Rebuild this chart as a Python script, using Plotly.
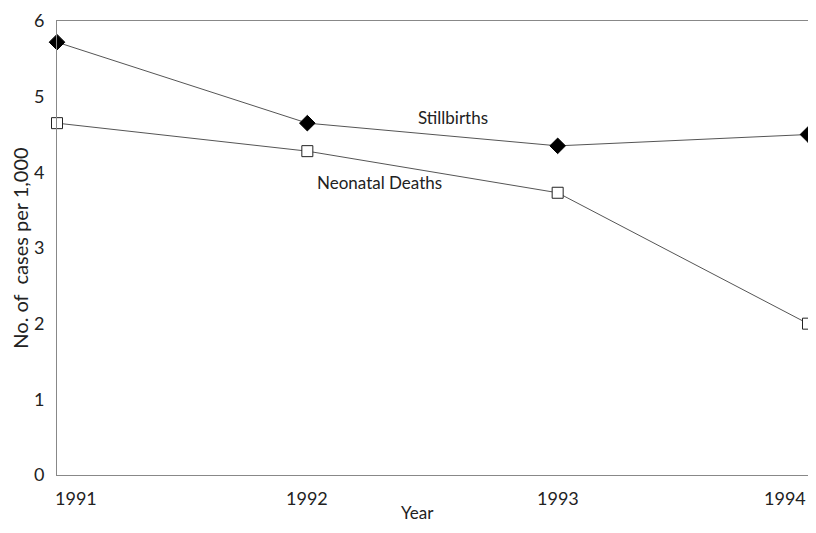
import plotly.graph_objects as go

years = [1991, 1992, 1993, 1994]
stillbirths = [5.72, 4.65, 4.35, 4.50]
neonatal = [4.65, 4.28, 3.73, 2.00]
y_ticks = [0, 1, 2, 3, 4, 5, 6]
y_tick_labels = ["0", "1", "2", "3", "4", "5", "6"]
x_tick_labels = ["1991", "1992", "1993", "1994"]

FONT = "Lato, Open Sans, sans-serif"

fig = go.Figure()
fig.add_trace(go.Scatter(
    x=years, y=stillbirths, mode="lines+markers", name="Stillbirths",
    line=dict(color="#555555", width=1),
    marker=dict(symbol="diamond", size=12, color="black", line=dict(color="black", width=1)),
    cliponaxis=False,
))
fig.add_trace(go.Scatter(
    x=years, y=neonatal, mode="lines+markers", name="Neonatal Deaths",
    line=dict(color="#555555", width=1),
    marker=dict(symbol="square", size=11, color="white", line=dict(color="#222222", width=1)),
    cliponaxis=False,
))

fig.add_annotation(x=1992.58, y=4.73, text="Stillbirths", showarrow=False,
                   font=dict(family=FONT, size=17, color="#222222"))
fig.add_annotation(x=1992.29, y=3.86, text="Neonatal Deaths", showarrow=False,
                   font=dict(family=FONT, size=17, color="#222222"))

# x tick labels: first left-aligned, last right-aligned, others centred
for i, (yr, lab) in enumerate(zip(years, x_tick_labels)):
    anchor = "left" if i == 0 else ("right" if i == len(years) - 1 else "center")
    shift = -4 if i == 0 else 0
    fig.add_annotation(x=yr, y=0, xref="x", yref="paper", text=lab, showarrow=False,
                       xanchor=anchor, yanchor="top", yshift=-10, xshift=shift,
                       font=dict(family=FONT, size=18, color="#222222"))

# x-axis title
fig.add_annotation(x=1992.44, y=0, xref="x", yref="paper", text="Year", showarrow=False,
                   xanchor="center", yanchor="bottom", yshift=-50,
                   font=dict(family=FONT, size=17, color="#222222"))

fig.update_layout(
    width=800, height=517,
    margin=dict(l=49, r=0, t=13, b=50),
    paper_bgcolor="white", plot_bgcolor="white",
    showlegend=False,
    font=dict(family=FONT, size=17, color="#222222"),
)
fig.update_xaxes(
    range=[1991, 1994], tickvals=years, showticklabels=False,
    showgrid=False, zeroline=False, showline=True, linecolor="#888888", linewidth=1,
    mirror=True, ticks="",
)
fig.update_yaxes(
    range=[0, 6], tickvals=y_ticks, ticktext=y_tick_labels,
    showgrid=False, zeroline=False, showline=True, linecolor="#888888", linewidth=1,
    mirror=True, ticks="", tickfont=dict(size=18), ticklabelstandoff=8,
    title=dict(text="No. of  cases per 1,000", font=dict(size=20), standoff=10),
)

fig.write_html("out.html")
